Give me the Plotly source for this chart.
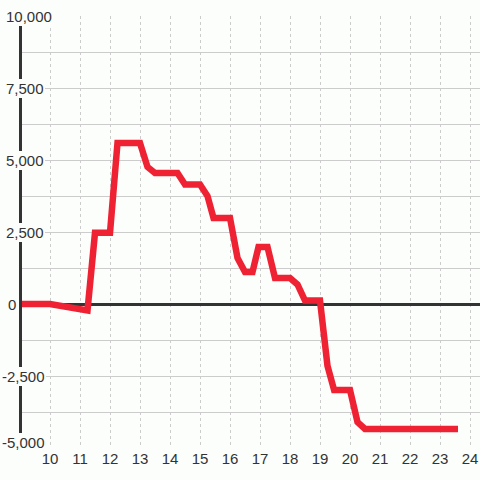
import plotly.graph_objects as go

# Data
hours = [9, 10, 11.25, 11.5, 12, 12.25, 13, 13.25, 13.5, 14.25, 14.5, 15, 15.25, 15.45,
         16, 16.25, 16.5, 16.75, 16.95, 17.25, 17.5, 18, 18.25, 18.5, 19, 19.25, 19.47,
         20, 20.25, 20.5, 23.6]
values = [0, 0, -220, 2470, 2470, 5590, 5590, 4760, 4550, 4550, 4150, 4150, 3750, 2990,
          2990, 1600, 1110, 1110, 1980, 1980, 900, 900, 680, 120, 120, -2150, -2990,
          -2990, -4100, -4340, -4340]

y_tick_vals = [10000, 7500, 5000, 2500, 0, -2500, -5000]
y_tick_text = ["10,000", "7,500", "5,000", "2,500", "0", "-2,500", "-5,000"]

BG = "#fcfefc"
TEXT = "#333333"
FONT = "Liberation Sans, Arial, sans-serif"

fig = go.Figure()
fig.add_trace(go.Scatter(
    x=hours, y=values, mode="lines",
    line=dict(color="#ee2233", width=6.5),
    hoverinfo="skip", showlegend=False,
))

W, H = 480, 480
ml, mr, mt, mb = 22, 0, 16, 32
x0 = 10 - (50 - ml) / 30.0
x1 = x0 + (W - ml - mr) / 30.0

fig.update_layout(
    width=W, height=H,
    margin=dict(l=ml, r=mr, t=mt, b=mb, pad=0),
    paper_bgcolor=BG, plot_bgcolor=BG,
    font=dict(family=FONT, size=15, color=TEXT),
    xaxis=dict(
        range=[x0, x1], tick0=10, dtick=1, automargin=False,
        showgrid=True, gridcolor="#cccccc", gridwidth=1, griddash="3px,3px",
        zeroline=False, showline=False, ticks="",
        tickfont=dict(family=FONT, size=15, color=TEXT),
        layer="below traces",
    ),
    yaxis=dict(
        range=[-5000, 10000], tick0=0, dtick=1250, automargin=False,
        showgrid=True, gridcolor="#cccccc", gridwidth=1,
        zeroline=True, zerolinecolor="#333333", zerolinewidth=3,
        showline=True, linecolor="#333333", linewidth=3,
        showticklabels=False, ticks="",
        layer="below traces",
    ),
)

for v, t in zip(y_tick_vals, y_tick_text):
    fig.add_annotation(
        xref="paper", yref="y", x=-ml / (W - ml - mr) + 5.0 / (W - ml - mr), y=v,
        text=t, showarrow=False, xanchor="left", yanchor="middle",
        xshift=-4 if v < 0 else (2 if v == 0 else 0),
        yshift=6 if v == -5000 else 0,
        bgcolor=BG, borderpad=1, borderwidth=0,
        font=dict(family=FONT, size=15, color=TEXT),
    )

fig.write_html(
    "out.html",
    config={"displayModeBar": False, "staticPlot": True},
    post_script="document.body.style.margin='0';document.body.style.overflow='hidden';",
)
